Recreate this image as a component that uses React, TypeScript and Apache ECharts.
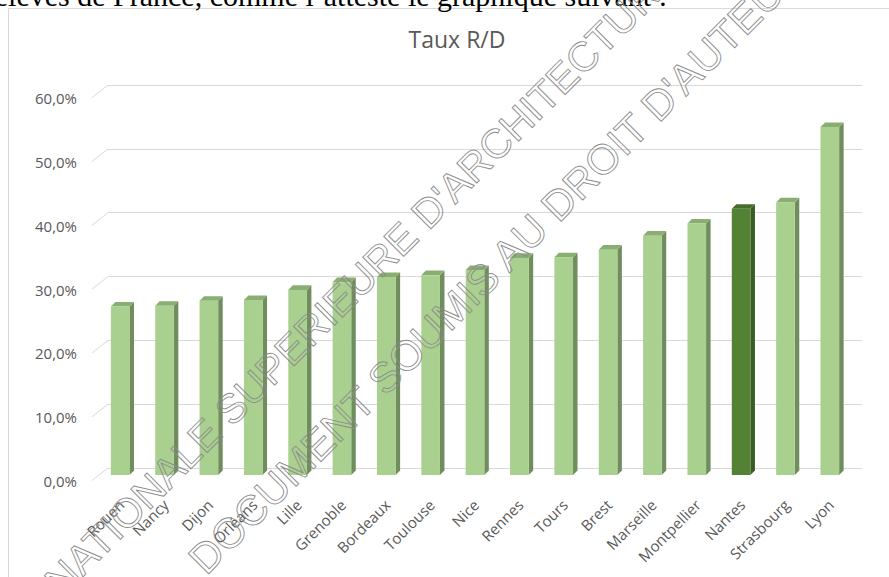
import React, { useEffect, useRef } from "react";
import * as echarts from "echarts";

const categories = [
  "Rouen", "Nancy", "Dijon", "Orléans", "Lille", "Grenoble", "Bordeaux", "Toulouse",
  "Nice", "Rennes", "Tours", "Brest", "Marseille", "Montpellier", "Nantes", "Strasbourg", "Lyon",
];
const values = [26.4, 26.5, 27.3, 27.4, 29.0, 30.2, 31.0, 31.3, 32.1, 34.0, 34.1, 35.3, 37.5, 39.4, 41.7, 42.7, 54.5];
const highlighted = "Nantes";
const yTicks = [0, 10, 20, 30, 40, 50, 60];
const titleText = "Taux R/D";
const headerText = "élèves de France, comme l’atteste le graphique suivant :";
const watermark1 = "NATIONALE SUPERIEURE D'ARCHITECTURE";
const watermark2 = "DOCUMENT SOUMIS AU DROIT D'AUTEUR";

const normalColors = { front: "#a9d08e", side: "#6f8d5d", top: "#8aad72" };
const hiColors = { front: "#548235", side: "#3b5b25", top: "#466d2c" };

// 3D geometry (front plane offset from back grid plane, bar depth)
const FRONT_DX = -10;
const FRONT_DY = 7;
const DEPTH_DX = 4.5;
const DEPTH_DY = -4.6;
const STUB_DX = -16;
const STUB_DY = 12.6;

export default function App() {
  const ref = useRef<HTMLDivElement>(null);

  useEffect(() => {
    if (!ref.current) return;
    const chart = echarts.init(ref.current, null, { renderer: "svg" });

    const barRender = (params: any, api: any) => {
      const i = api.value(0);
      const v = api.value(1);
      const base = api.coord([i, 0]);
      const top = api.coord([i, v]);
      const band = api.size([1, 0])[0];
      const w = band * 0.42;
      const cx = base[0] + FRONT_DX;
      const xl = cx - w / 2;
      const xr = cx + w / 2;
      const yb = base[1] + FRONT_DY;
      const yt = top[1] + FRONT_DY;
      const c = categories[i] === highlighted ? hiColors : normalColors;
      return {
        type: "group",
        children: [
          {
            type: "polygon",
            shape: {
              points: [
                [xr, yt], [xr + DEPTH_DX, yt + DEPTH_DY],
                [xr + DEPTH_DX, yb + DEPTH_DY], [xr, yb],
              ],
            },
            style: { fill: c.side },
          },
          {
            type: "polygon",
            shape: {
              points: [
                [xl, yt], [xr, yt], [xr + DEPTH_DX, yt + DEPTH_DY], [xl + DEPTH_DX, yt + DEPTH_DY],
              ],
            },
            style: { fill: c.top },
          },
          {
            type: "rect",
            shape: { x: xl, y: yt, width: w, height: yb - yt },
            style: { fill: c.front },
          },
        ],
      };
    };

    const stubRender = (params: any, api: any) => {
      const v = api.value(1);
      const y = api.coord([0, v])[1];
      const x = params.coordSys.x;
      return {
        type: "line",
        shape: { x1: x, y1: y, x2: x + STUB_DX, y2: y + STUB_DY },
        style: { stroke: "#d9d9d9", lineWidth: 1 },
      };
    };

    const option: any = {
      animation: false,
      backgroundColor: "#ffffff",
      title: {
        text: titleText,
        left: 452,
        top: 22,
        textAlign: "center",
        textStyle: { fontFamily: "Open Sans", fontSize: 23, fontWeight: "normal", color: "#595959" },
      },
      grid: { left: 108, right: 27, top: 85, bottom: 109 },
      xAxis: {
        type: "category",
        data: categories,
        axisLine: { show: false },
        axisTick: { show: false },
        splitLine: { show: false },
        axisLabel: {
          interval: 0,
          rotate: 45,
          margin: 25,
          padding: [0, 12.7, 0, 0],
          fontFamily: "Open Sans",
          fontSize: 15,
          color: "#595959",
        },
      },
      yAxis: {
        type: "value",
        min: 0,
        max: 60,
        interval: 10,
        axisLine: { show: false },
        axisTick: { show: false },
        splitLine: { show: true, lineStyle: { color: "#d9d9d9", width: 1 } },
        axisLabel: {
          margin: 31,
          lineHeight: 26,
          fontFamily: "Open Sans",
          fontSize: 15,
          color: "#595959",
          formatter: (v: number) => "\n" + v.toFixed(1).replace(".", ",") + "%",
        },
      },
      series: [
        {
          type: "custom",
          name: "stubs",
          silent: true,
          renderItem: stubRender,
          encode: { x: 0, y: 1 },
          data: yTicks.map((t) => [0, t]),
          z: 1,
        },
        {
          type: "custom",
          name: "Taux R/D",
          renderItem: barRender,
          encode: { x: 0, y: 1 },
          data: values.map((v, i) => [i, v]),
          z: 2,
        },
      ],
      graphic: [
        {
          type: "rect",
          silent: true,
          z: -10,
          shape: { x: 8.5, y: 8.5, width: 1000, height: 1000 },
          style: { fill: "none", stroke: "#d9d9d9", lineWidth: 1 },
        },
        {
          type: "text",
          silent: true,
          x: 667,
          y: -5,
          style: {
            text: headerText,
            font: '30px "Liberation Serif"',
            fill: "#000000",
            textAlign: "right",
            textVerticalAlign: "middle",
          },
        },
        {
          type: "text",
          silent: true,
          z: 100,
          x: 52,
          y: 588,
          rotation: Math.PI / 4,
          style: {
            text: watermark1,
            font: '41px "Liberation Sans"',
            fill: "none",
            stroke: "#8c8c8c",
            lineWidth: 0.9,
            textAlign: "left",
            textVerticalAlign: "middle",
          },
        },
        {
          type: "text",
          silent: true,
          z: 100,
          x: 196,
          y: 566,
          rotation: Math.PI / 4,
          style: {
            text: watermark2,
            font: '42px "Liberation Sans"',
            fill: "none",
            stroke: "#8c8c8c",
            lineWidth: 0.9,
            textAlign: "left",
            textVerticalAlign: "middle",
          },
        },
      ],
    };

    chart.setOption(option);
    return () => chart.dispose();
  }, []);

  return (
    <div
      ref={ref}
      style={{ position: "absolute", left: 0, top: 0, width: 889, height: 577 }}
    />
  );
}
